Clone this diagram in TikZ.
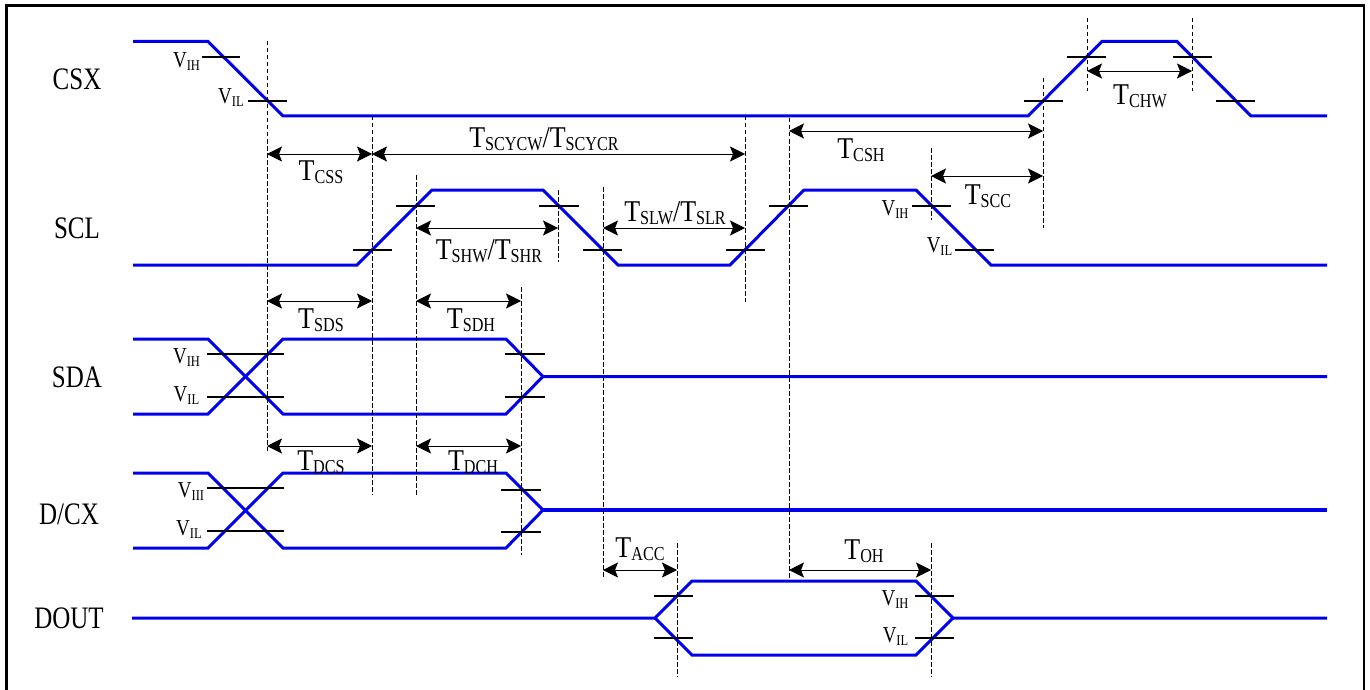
\documentclass[tikz,border=0pt]{standalone}
\usepackage{fontspec}
\setmainfont{Liberation Serif}
\usepackage{tikz}
\usetikzlibrary{arrows.meta}

\definecolor{wireblue}{RGB}{0,0,235}
\newcommand{\bigT}[2]{\scalebox{1}[1.16]{\fontsize{26}{26}\selectfont #1}\raisebox{-3pt}{\scalebox{0.95}[1.16]{\fontsize{17}{17}\selectfont #2}}}
\newcommand{\lev}[2]{\scalebox{1}[1.2]{\fontsize{19}{19}\selectfont #1\raisebox{-2.5pt}{\fontsize{12.5}{12.5}\selectfont #2}}}

\begin{document}
\begin{tikzpicture}[x=1pt, y=-1pt,
    wire/.style={draw=wireblue, line width=3pt, line join=miter},
    tick/.style={draw=black, line width=1.8pt},
    guide/.style={draw=black, line width=0.7pt, dash pattern=on 4.5pt off 2.5pt},
    span/.style={draw=black, line width=0.9pt, {Stealth[length=15pt,width=15pt,inset=3pt]}-{Stealth[length=15pt,width=15pt,inset=3pt]}},
    signame/.style={font=\fontsize{25}{25}\selectfont, inner sep=0pt},
    lbl/.style={inner sep=0pt}]
    \useasboundingbox (0,0) rectangle (1370,690);

    % Frame
    \draw[line width=2.4pt] (6.5,692) -- (6.5,5.5) -- (1364,5.5) -- (1364,692);

    % Signal names
    \node[signame] (csx) at (77,79) {\scalebox{1}[1.25]{CSX}};
    \node[signame] (scl) at (77,228) {\scalebox{1}[1.25]{SCL}};
    \node[signame] (sda) at (77,377) {\scalebox{1}[1.25]{SDA}};
    \node[signame] (dcx) at (69,514) {\scalebox{1}[1.25]{D/CX}};
    \node[signame] (dout) at (69,618) {\scalebox{1}[1.25]{DOUT}};

    % Waveforms
    \draw[wire] (133,41.5) -- (208,41.5) -- (283,116) -- (1028,116) -- (1102,41.5) -- (1177,41.5) -- (1251,116) -- (1327,116);
    \draw[wire] (133,265) -- (357,265) -- (432,190) -- (543,190) -- (618,265) -- (730,265) -- (804,190) -- (916,190) -- (991,265) -- (1327,265);
    \draw[wire] (133,339) -- (208,339) -- (283,414) -- (506,414) -- (543,376.5) -- (1327,376.5);
    \draw[wire] (133,414) -- (208,414) -- (283,339) -- (506,339) -- (543,376.5);
    \draw[wire] (133,473) -- (208,473) -- (283,548) -- (506,548) -- (543,510);
    \draw[wire] (133,548) -- (208,548) -- (283,473) -- (506,473) -- (543,510);
    \draw[wire, line width=4.2pt] (543,510) -- (1327,510);
    \draw[wire] (132,618) -- (655,618) -- (692,581) -- (916,581) -- (953,618) -- (1327,618);
    \draw[wire] (655,618) -- (692,655) -- (916,655) -- (953,618);

    % Level ticks
    \foreach \xa/\xb/\y in {202/240/57, 248/287/101, 1024/1063/101, 1067/1106/57, 1173/1212/57, 1216/1255/101,
        353/392/250, 396/435/206, 539/579/206, 583/622/250, 726/765/250, 769/808/206, 912/951/206, 955/994/250,
        207/284/354, 207/284/397, 505/545/354, 505/545/397,
        207/284/488, 207/284/531, 501/541/490, 501/541/532,
        654/693/596, 654/693/638, 915/954/596, 915/954/638}
        \draw[tick] (\xa,\y) -- (\xb,\y);

    % Dashed guides
    \foreach \x/\ya/\yb in {267/41/451, 372/116/495, 416/175/495, 521/287/555, 558/190/262, 603/187/579,
        745/116/302, 789/118/581, 931/148/220, 1043/78/228, 1087/18/91, 1192/18/91, 677/543/677, 931/543/677}
        \draw[guide] (\x,\ya) -- (\x,\yb);

    % Timing spans
    \foreach \n/\xa/\xb/\y in {css/267/372/154, cyc/372/745/154, csh/789/1043/131, scc/931/1043/176, chw/1087/1192/71,
        shw/416/558/228, slw/603/745/228, sds/267/372/301, sdh/416/521/301, dcs/267/372/446, dch/416/521/446,
        acc/603/677/570, toh/789/931/570} {
        \coordinate (\n l) at (\xa,\y);
        \coordinate (\n r) at (\xb,\y);
        \draw[span] (\n l) -- (\n r);
    }

    % Timing labels
    \node[lbl] (tcss) at (321,172) {\bigT{T}{CSS}};
    \node[lbl] (tcyc) at (544,139) {\bigT{T}{SCYCW}\bigT{/T}{SCYCR}};
    \node[lbl] (tcsh) at (861,150) {\bigT{T}{CSH}};
    \node[lbl] (tscc) at (988,196) {\bigT{T}{SCC}};
    \node[lbl] (tchw) at (1140,96) {\bigT{T}{CHW}};
    \node[lbl] (tshw) at (489,251) {\bigT{T}{SHW}\bigT{/T}{SHR}};
    \node[lbl] (tslw) at (675,213) {\bigT{T}{SLW}\bigT{/T}{SLR}};
    \node[lbl] (tsds) at (321,320) {\bigT{T}{SDS}};
    \node[lbl] (tsdh) at (471,320) {\bigT{T}{SDH}};
    \node[lbl] (tdcs) at (321,462) {\bigT{T}{DCS}};
    \node[lbl] (tdch) at (473,462) {\bigT{T}{DCH}};
    \node[lbl] (tacc) at (640,549) {\bigT{T}{ACC}};
    \node[lbl] (toh) at (864,551) {\bigT{T}{OH}};

    % Level labels
    \foreach \n/\x/\y/\s in {a/186.5/62/IH, b/231/98/IL, c/186.5/358/IH, d/186.5/396/IL, e/191/492/III, f/189/530/IL,
        g/895/210/IH, h/939.5/247/IL, i/895/600/IH, j/895.5/637/IL}
        \node[lbl] (lev\n) at (\x,\y) {\lev{V}{\s}};
\end{tikzpicture}
\end{document}
